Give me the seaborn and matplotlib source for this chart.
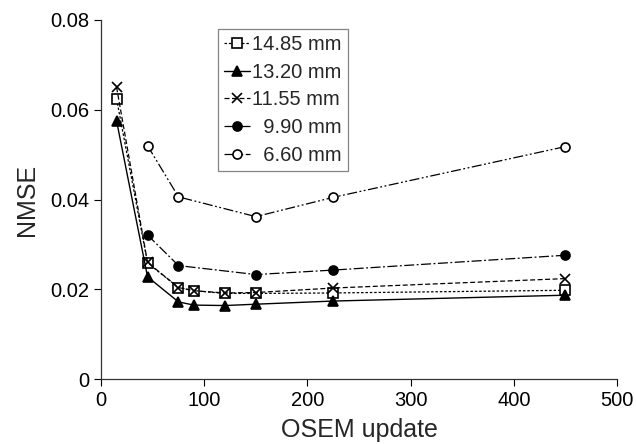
import pandas as pd
import matplotlib
matplotlib.use("Agg")
import matplotlib.pyplot as plt
import seaborn as sns

# OSEM update counts
updates = [15, 45, 75, 90, 120, 150, 225, 450]
updates_short = [45, 75, 150, 225, 450]

nmse_1485 = [0.0624, 0.0259, 0.0204, 0.0197, 0.0191, 0.0191, 0.0192, 0.0198]
nmse_1320 = [0.0575, 0.0228, 0.0172, 0.0165, 0.0164, 0.0167, 0.0174, 0.0187]
nmse_1155 = [0.0650, 0.0260, 0.0204, 0.0197, 0.0192, 0.0193, 0.0203, 0.0224]
nmse_990 = [0.0321, 0.0253, 0.0233, 0.0243, 0.0276]
nmse_660 = [0.0520, 0.0406, 0.0362, 0.0405, 0.0518]

labels = ["14.85 mm", "13.20 mm", "11.55 mm", "  9.90 mm", "  6.60 mm"]

sns.set_style("ticks")
plt.rcParams['font.family'] = ['Liberation Sans', 'DejaVu Sans']

fig = plt.figure(figsize=(6.36, 4.44), dpi=100)
ax = fig.add_axes([0.159, 0.146, 0.811, 0.809])

series = [
    (updates, nmse_1485, labels[0], "s", "white", (0, (2, 1.5)), 0.9),
    (updates, nmse_1320, labels[1], "^", "black", "-", 1.0),
    (updates, nmse_1155, labels[2], "x", "black", (0, (4, 2)), 0.9),
    (updates_short, nmse_990, labels[3], "o", "black", (0, (8, 2, 1.5, 2)), 0.9),
    (updates_short, nmse_660, labels[4], "o", "white", (0, (8, 2, 1.5, 2, 1.5, 2)), 0.9),
]

for x, y, lab, mk, fc, ls, lw in series:
    df = pd.DataFrame({"update": x, "nmse": y})
    sns.lineplot(data=df, x="update", y="nmse", ax=ax, color="black",
                 marker=mk, markersize=6.5 if mk != "x" else 7.5,
                 markerfacecolor=fc, markeredgecolor="black",
                 markeredgewidth=1.2, linestyle=ls, linewidth=lw, label=lab)

ax.set_xlim(0, 500)
ax.set_ylim(0, 0.08)
ax.set_xticks([0, 100, 200, 300, 400, 500])
ax.set_yticks([0, 0.02, 0.04, 0.06, 0.08])
ax.set_yticklabels(["0", "0.02", "0.04", "0.06", "0.08"])
ax.tick_params(labelsize=14.5, direction="out", length=5, width=0.8, colors="black")
ax.set_xlabel("OSEM update", fontsize=18, labelpad=6)
ax.set_ylabel("NMSE", fontsize=18, labelpad=8)
sns.despine(ax=ax)
for s in ["left", "bottom"]:
    ax.spines[s].set_color("#333333")
    ax.spines[s].set_linewidth(0.9)

leg = ax.legend(loc="upper left", bbox_to_anchor=(0.227, 0.975), fontsize=14.5,
                frameon=True, fancybox=False, handlelength=1.3,
                handletextpad=0.1, borderpad=0.3, labelspacing=0.43,
                borderaxespad=0)
leg.get_frame().set_edgecolor("#666666")
leg.get_frame().set_linewidth(0.9)

fig.savefig("out.png", dpi=100)
